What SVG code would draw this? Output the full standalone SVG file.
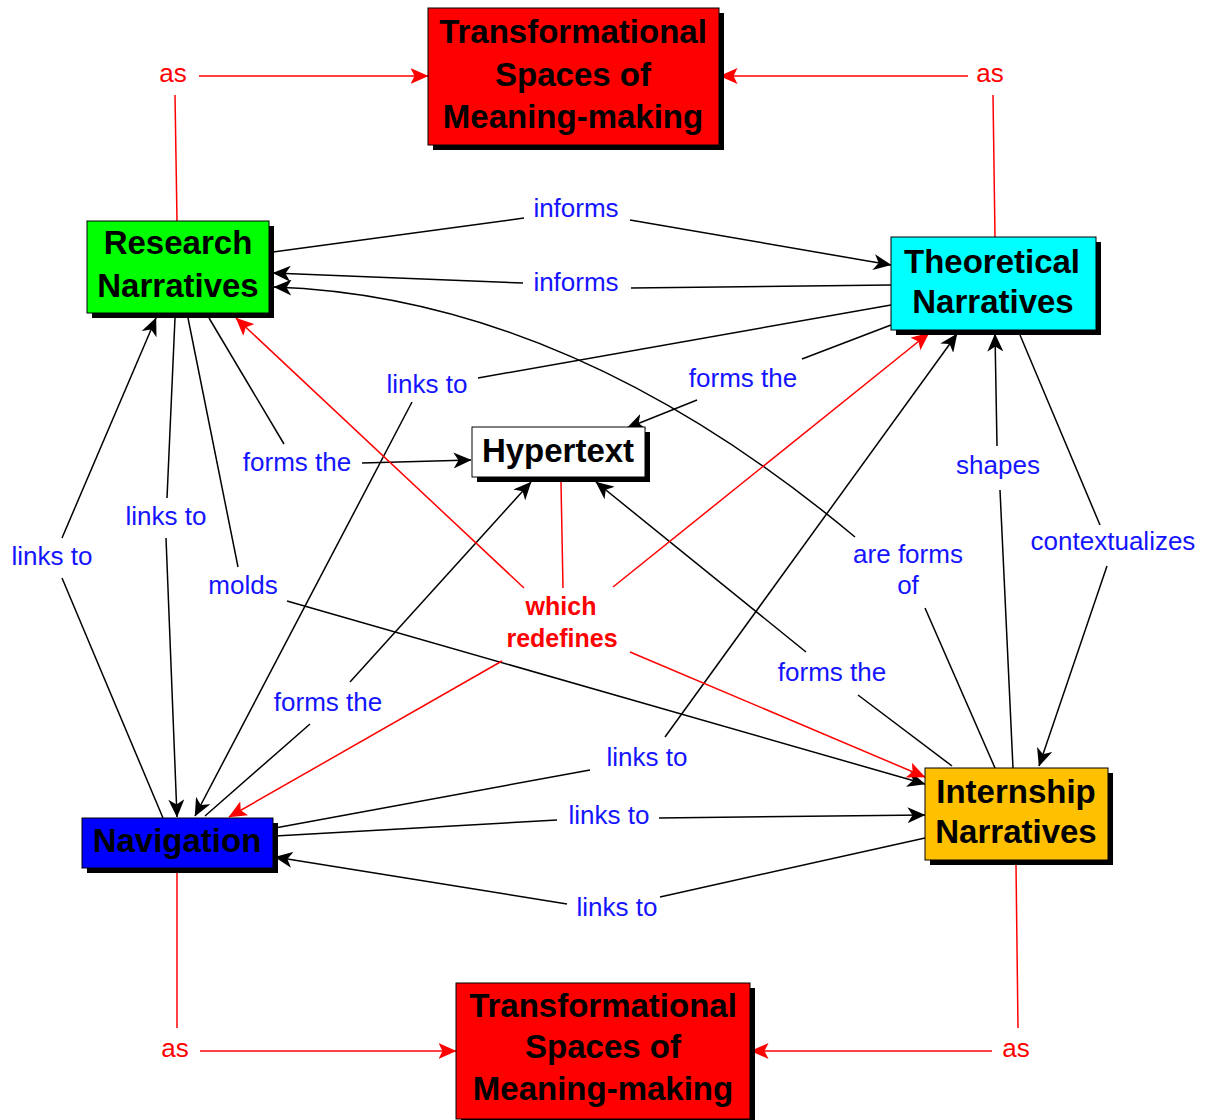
<svg xmlns="http://www.w3.org/2000/svg" width="1215" height="1120" viewBox="0 0 1215 1120">
  <style>
    .shadow { fill: #000; }
    .box { stroke: #000; stroke-width: 1; }
    .ntext { font-family: "Liberation Sans", Arial, sans-serif; font-weight: bold; font-size: 33px; fill: #000; text-anchor: middle; }
    .lbl { font-family: "Liberation Sans", Arial, sans-serif; font-size: 26px; fill: #1414ff; text-anchor: middle; }
    .rlbl { font-family: "Liberation Sans", Arial, sans-serif; font-size: 26px; fill: #ff0000; text-anchor: middle; }
    .rbold { font-weight: bold; font-size: 25px; }
    .conn { fill: none; stroke: #000; stroke-width: 1.5; }
    .rconn { fill: none; stroke: #ff0000; stroke-width: 1.5; }
  </style>
  <defs>
    <marker id="ah" viewBox="0 0 18 16" refX="17.5" refY="8" markerWidth="18" markerHeight="16" orient="auto" markerUnits="userSpaceOnUse">
      <path d="M0,0 L18,8 L0,16 L5,8 Z" fill="#000"/>
    </marker>
    <marker id="rah" viewBox="0 0 18 16" refX="17.5" refY="8" markerWidth="18" markerHeight="16" orient="auto" markerUnits="userSpaceOnUse">
      <path d="M0,0 L18,8 L0,16 L4,8 Z" fill="#ff0000"/>
    </marker>
  </defs>
  <rect width="1215" height="1120" fill="#fff"/>

  <!-- connectors -->
  <g id="connectors">
    <!-- black links -->
    <path class="conn" d="M273 252 L524 218"/>
    <path class="conn" d="M630 220 L891 265" marker-end="url(#ah)"/>
    <path class="conn" d="M891 285 L631 288"/>
    <path class="conn" d="M523 283 L273 273" marker-end="url(#ah)"/>
    <path class="conn" d="M891 305 L478 378"/>
    <path class="conn" d="M412 402 L195 816" marker-end="url(#ah)"/>
    <path class="conn" d="M891 325 L802 359"/>
    <path class="conn" d="M697 400 L627 428" marker-end="url(#ah)"/>
    <path class="conn" d="M209 318 L284 444"/>
    <path class="conn" d="M362 463 L471 460" marker-end="url(#ah)"/>
    <path class="conn" d="M175 318 L167 498"/>
    <path class="conn" d="M166 538 L177 817" marker-end="url(#ah)"/>
    <path class="conn" d="M188 318 L238 567"/>
    <path class="conn" d="M287 601 L925 784" marker-end="url(#ah)"/>
    <path class="conn" d="M163 818 L62 578"/>
    <path class="conn" d="M62 538 L156 318" marker-end="url(#ah)"/>
    <path class="conn" d="M205 816 L310 724"/>
    <path class="conn" d="M350 682 L531 482" marker-end="url(#ah)"/>
    <path class="conn" d="M952 766 L858 695"/>
    <path class="conn" d="M806 652 L596 482" marker-end="url(#ah)"/>
    <path class="conn" d="M275 828 L590 770"/>
    <path class="conn" d="M665 737 L957 334" marker-end="url(#ah)"/>
    <path class="conn" d="M275 836 L557 820"/>
    <path class="conn" d="M659 818 L925 815" marker-end="url(#ah)"/>
    <path class="conn" d="M925 838 L660 897"/>
    <path class="conn" d="M567 904 L275 857" marker-end="url(#ah)"/>
    <path class="conn" d="M995 768 L925 608"/>
    <path class="conn" d="M855 537 Q568 297 274 287" marker-end="url(#ah)"/>
    <path class="conn" d="M1013 768 L1000 490"/>
    <path class="conn" d="M997 446 L995 334" marker-end="url(#ah)"/>
    <path class="conn" d="M1020 335 L1100 525"/>
    <path class="conn" d="M1107 566 L1039 766" marker-end="url(#ah)"/>
    <!-- red links -->
    <path class="rconn" d="M177 221 L175 95"/>
    <path class="rconn" d="M199 76 L428 76" marker-end="url(#rah)"/>
    <path class="rconn" d="M995 237 L993 95"/>
    <path class="rconn" d="M968 76 L720 76" marker-end="url(#rah)"/>
    <path class="rconn" d="M177 873 L177 1028"/>
    <path class="rconn" d="M200 1051 L456 1051" marker-end="url(#rah)"/>
    <path class="rconn" d="M1016 865 L1018 1028"/>
    <path class="rconn" d="M992 1051 L751 1051" marker-end="url(#rah)"/>
    <path class="rconn" d="M561 482 L563 588"/>
    <path class="rconn" d="M524 588 L236 318" marker-end="url(#rah)"/>
    <path class="rconn" d="M613 587 L929 333" marker-end="url(#rah)"/>
    <path class="rconn" d="M502 661 L229 817" marker-end="url(#rah)"/>
    <path class="rconn" d="M630 652 L925 777" marker-end="url(#rah)"/>
  </g>

  <!-- link labels -->
  <g id="labels">
    <text class="lbl" x="576" y="217">informs</text>
    <text class="lbl" x="576" y="291">informs</text>
    <text class="lbl" x="427" y="393">links to</text>
    <text class="lbl" x="743" y="387">forms the</text>
    <text class="lbl" x="297" y="471">forms the</text>
    <text class="lbl" x="166" y="525">links to</text>
    <text class="lbl" x="52" y="565">links to</text>
    <text class="lbl" x="243" y="594">molds</text>
    <text class="lbl" x="998" y="474">shapes</text>
    <text class="lbl" x="1113" y="550">contextualizes</text>
    <text class="lbl" x="908" y="563">are forms</text>
    <text class="lbl" x="908" y="594">of</text>
    <text class="lbl" x="832" y="681">forms the</text>
    <text class="lbl" x="328" y="711">forms the</text>
    <text class="lbl" x="647" y="766">links to</text>
    <text class="lbl" x="609" y="824">links to</text>
    <text class="lbl" x="617" y="916">links to</text>
    <text class="rlbl rbold" x="561" y="615">which</text>
    <text class="rlbl rbold" x="562" y="647">redefines</text>
    <text class="rlbl" x="173" y="82">as</text>
    <text class="rlbl" x="990" y="82">as</text>
    <text class="rlbl" x="175" y="1057">as</text>
    <text class="rlbl" x="1016" y="1057">as</text>
  </g>

  <!-- concept nodes -->
  <g id="node-tsm-top">
    <rect class="shadow" x="433" y="13" width="291" height="137"/>
    <rect class="box" x="428" y="8" width="291" height="137" fill="#ff0000"/>
    <text class="ntext" x="573" y="43">Transformational</text>
    <text class="ntext" x="573" y="86">Spaces of</text>
    <text class="ntext" x="573" y="128">Meaning-making</text>
  </g>
  <g id="node-research">
    <rect class="shadow" x="92" y="226" width="182" height="92"/>
    <rect class="box" x="87" y="221" width="182" height="92" fill="#00ff00"/>
    <text class="ntext" x="178" y="254">Research</text>
    <text class="ntext" x="178" y="297">Narratives</text>
  </g>
  <g id="node-theoretical">
    <rect class="shadow" x="896" y="242" width="205" height="93"/>
    <rect class="box" x="891" y="237" width="205" height="93" fill="#00ffff"/>
    <text class="ntext" x="992" y="273">Theoretical</text>
    <text class="ntext" x="993" y="313">Narratives</text>
  </g>
  <g id="node-hypertext">
    <rect class="shadow" x="477" y="432" width="173" height="50"/>
    <rect class="box" x="472" y="427" width="173" height="50" fill="#ffffff"/>
    <text class="ntext" x="558" y="462">Hypertext</text>
  </g>
  <g id="node-navigation">
    <rect class="shadow" x="87" y="823" width="191" height="50"/>
    <rect class="box" x="82" y="818" width="191" height="50" fill="#0000ff"/>
    <text class="ntext" x="177" y="852">Navigation</text>
  </g>
  <g id="node-internship">
    <rect class="shadow" x="930" y="773" width="183" height="92"/>
    <rect class="box" x="925" y="768" width="183" height="92" fill="#ffc000"/>
    <text class="ntext" x="1016" y="803">Internship</text>
    <text class="ntext" x="1016" y="843">Narratives</text>
  </g>
  <g id="node-tsm-bottom">
    <rect class="shadow" x="461" y="988" width="294" height="136"/>
    <rect class="box" x="456" y="983" width="294" height="136" fill="#ff0000"/>
    <text class="ntext" x="603" y="1017">Transformational</text>
    <text class="ntext" x="603" y="1058">Spaces of</text>
    <text class="ntext" x="603" y="1100">Meaning-making</text>
  </g>
</svg>
